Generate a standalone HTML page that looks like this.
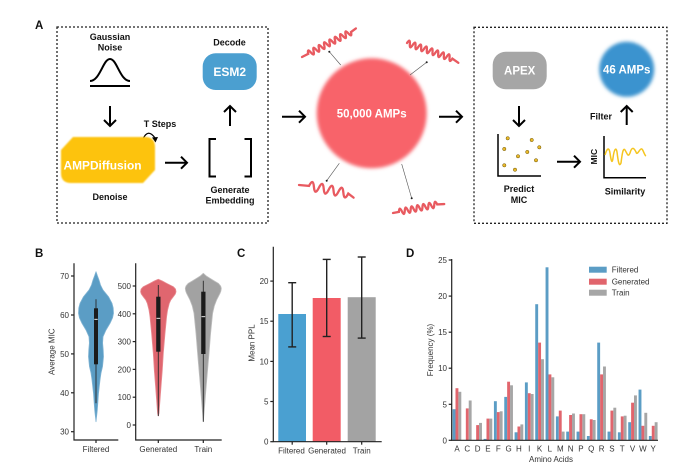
<!DOCTYPE html>
<html><head><meta charset="utf-8"><style>
html,body{margin:0;padding:0;background:#fff;}
svg{display:block;font-family:"Liberation Sans",Arial,sans-serif;}
.b{font-weight:bold;fill:#111;}
.t{font-size:8px;fill:#333;}
</style></head><body>
<svg width="692" height="468" viewBox="0 0 692 468" xmlns="http://www.w3.org/2000/svg">
<defs>
<filter id="blr" x="-20%" y="-20%" width="140%" height="140%"><feGaussianBlur stdDeviation="1.8"/></filter>
<filter id="blr2" x="-20%" y="-20%" width="140%" height="140%"><feGaussianBlur stdDeviation="0.7"/></filter>
</defs>
<rect width="692" height="468" fill="#fff"/>

<!-- ===== Panel A ===== -->
<text x="35" y="29" class="b" font-size="11.5">A</text>
<rect x="57" y="27" width="211" height="196" fill="none" stroke="#222" stroke-width="1.3" stroke-dasharray="2,2"/>
<g text-anchor="middle" font-size="9" class="b">
<text x="110" y="40" class="b">Gaussian</text>
<text x="110" y="50.5" class="b">Noise</text>
<text x="229.5" y="45.5" class="b">Decode</text>
<text x="160" y="127" class="b">T Steps</text>
<text x="110" y="200" class="b">Denoise</text>
<text x="230" y="193" class="b">Generate</text>
<text x="230" y="203.5" class="b">Embedding</text>
<text x="519" y="192" class="b">Predict</text>
<text x="519" y="203" class="b">MIC</text>
<text x="625" y="194.5" class="b">Similarity</text>
<text x="601" y="119.5" class="b">Filter</text>
</g>
<!-- gaussian -->
<path d="M90,81 C100,81 103,59 110,59 C117,59 120,81 130,81" fill="none" stroke="#000" stroke-width="2"/>
<line x1="90" y1="86" x2="130" y2="86" stroke="#000" stroke-width="2"/>
<!-- arrows -->
<g fill="none" stroke="#000" stroke-width="2">
<line x1="110" y1="106" x2="110" y2="126"/><polyline points="104,120 110,126 116,120"/>
<line x1="230" y1="126" x2="230" y2="106"/><polyline points="224,112 230,106 236,112"/>
<line x1="165" y1="162.7" x2="187" y2="162.7"/><polyline points="181,156.7 187,162.7 181,168.7"/>
<line x1="282" y1="116.7" x2="305" y2="116.7"/><polyline points="299,110.7 305,116.7 299,122.7"/>
<line x1="439" y1="116.7" x2="462" y2="116.7"/><polyline points="456,110.7 462,116.7 456,122.7"/>
<line x1="519" y1="106" x2="519" y2="126"/><polyline points="513,120 519,126 525,120"/>
<line x1="557" y1="161.7" x2="580" y2="161.7"/><polyline points="574,155.7 580,161.7 574,167.7"/>
<line x1="626.7" y1="125" x2="626.7" y2="106"/><polyline points="620.7,112 626.7,106 632.7,112"/>
<!-- brackets -->
<polyline points="216,139 209.5,139 209.5,176.5 216,176.5"/>
<polyline points="244.5,139 251,139 251,176.5 244.5,176.5"/>
</g>
<!-- curved T steps arrow -->
<path d="M143,139 Q148,128 155,138" fill="none" stroke="#000" stroke-width="1.3"/>
<polygon points="152,137.5 158,137 155.5,142.5" fill="#000"/>
<!-- AMPDiffusion -->
<path d="M73,137 L145,137 Q155,137 155,147 L155,170 L143,183 L71,183 Q61,183 61,173 L61,150 Z" fill="#fdc30f" filter="url(#blr2)"/>
<text x="102.5" y="169.5" text-anchor="middle" font-size="12" font-weight="bold" fill="#fff" textLength="78" lengthAdjust="spacingAndGlyphs">AMPDiffusion</text>
<!-- ESM2 -->
<rect x="202.7" y="53.3" width="54" height="36.7" rx="13" fill="#4b9fd0"/>
<text x="229.7" y="76" text-anchor="middle" font-size="12" font-weight="bold" fill="#fff">ESM2</text>

<!-- red circle -->
<circle cx="371.7" cy="113.3" r="55" fill="#f8646a" filter="url(#blr)"/>
<text x="371.7" y="117.5" text-anchor="middle" font-size="11.5" font-weight="bold" fill="#fff">50,000 AMPs</text>
<!-- pointer lines -->
<g stroke="#555" stroke-width="0.6">
<line x1="329.3" y1="51.7" x2="340.7" y2="65"/>
<line x1="426.7" y1="62.3" x2="410" y2="75"/>
<line x1="326.7" y1="180.7" x2="339.3" y2="163.3"/>
<line x1="411.7" y1="198.3" x2="401.7" y2="164"/>
</g>
<g fill="#222"><circle cx="329.3" cy="51.7" r="1"/><circle cx="426.7" cy="62.3" r="1"/><circle cx="326.7" cy="180.7" r="1"/><circle cx="411.7" cy="198.3" r="1"/></g>
<!-- helices -->
<g fill="none" stroke="#e85a60" stroke-width="2.3" stroke-linecap="round">
<g transform="translate(302,57) rotate(-27)"><path d="M0,0 L7,0 q1.5,-6 3,0 t3,0 t3,0 t3,0 t3,0 t3,0 t3,0 t3,0 t3,0 t3,0 t3,0 t3,0 t3,0 t3,0 t3,0 t3,0 L61,-1" /></g>
<g transform="translate(407,43) rotate(19)"><path d="M0,0 q1.5,-6 3,0 t3,0 t3,0 t3,0 t3,0 t3,0 t3,0 t3,0 t3,0 t3,0 t3,0 t3,0 t3,0 t3,0 t3,0 t3,0 L55,2"/></g>
<g transform="translate(299,185) rotate(11)"><path d="M0,0 L10,-1 q2.5,-9 5,0 t5,0 t5,0 t5,0 t5,0 t5,0 t5,0 t5,0 L56,2"/></g>
<g transform="translate(393,213) rotate(-11)"><path d="M0,0 L6,0 q1.5,-6 3,0 t3,0 t3,0 t3,0 t3,0 t3,0 t3,0 t3,0 t3,0 t3,0 t3,0 t3,0 t3,0 L52,1"/></g>
</g>

<!-- right box -->
<rect x="474" y="27.3" width="193" height="196" fill="none" stroke="#222" stroke-width="1.3" stroke-dasharray="2,2"/>
<rect x="492.7" y="51.7" width="54" height="37.6" rx="13" fill="#a6a6a6"/>
<text x="519.7" y="74.5" text-anchor="middle" font-size="11.5" font-weight="bold" fill="#fff">APEX</text>
<polyline points="498,134 498,176 541,176" fill="none" stroke="#000" stroke-width="1.5"/>
<g fill="#e9b92b" stroke="#6b5200" stroke-width="0.5">
<circle cx="507.7" cy="138.3" r="1.7"/><circle cx="531.7" cy="140" r="1.7"/><circle cx="504.3" cy="149" r="1.7"/>
<circle cx="539.3" cy="147.3" r="1.7"/><circle cx="527.3" cy="152" r="1.7"/><circle cx="518" cy="156.3" r="1.7"/>
<circle cx="536" cy="160.3" r="1.7"/><circle cx="504.3" cy="165.3" r="1.7"/><circle cx="515" cy="169.7" r="1.7"/>
</g>
<polyline points="604,136 604,177.7 646,177.7" fill="none" stroke="#000" stroke-width="1.5"/>
<text transform="translate(597,156.7) rotate(-90)" text-anchor="middle" font-size="8.5" class="b">MIC</text>
<path d="M605,155 C607,148 609,147 610,153 C611,160 612,165 613,158 C614,150 616,146 617,152 C618,160 619,168 621,163 C622,155 623,147 625,150 C627,153 628,158 630,153 C632,146 634,148 636,152 C637,156 639,150 641,149 C643,148 644,155 646,156" fill="none" stroke="#f5c51f" stroke-width="1.5"/>
<circle cx="626.7" cy="69.3" r="27.5" fill="#3a93cf" filter="url(#blr)"/>
<text x="626.7" y="73.5" text-anchor="middle" font-size="11.5" font-weight="bold" fill="#fff">46 AMPs</text>

<!-- ===== Panel B ===== -->
<text x="35" y="257" class="b" font-size="11.5">B</text>
<g stroke="#222" stroke-width="1.2" fill="none">
<polyline points="74,263.3 74,440 118.3,440"/>
<polyline points="135.7,263.3 135.7,440 221.7,440"/>
<line x1="71" y1="276" x2="74" y2="276"/><line x1="71" y1="315" x2="74" y2="315"/><line x1="71" y1="353.9" x2="74" y2="353.9"/><line x1="71" y1="392.8" x2="74" y2="392.8"/><line x1="71" y1="431.7" x2="74" y2="431.7"/>
<line x1="96" y1="440" x2="96" y2="443"/>
<line x1="132.7" y1="286" x2="135.7" y2="286"/><line x1="132.7" y1="313.8" x2="135.7" y2="313.8"/><line x1="132.7" y1="341.6" x2="135.7" y2="341.6"/><line x1="132.7" y1="369.4" x2="135.7" y2="369.4"/><line x1="132.7" y1="397.2" x2="135.7" y2="397.2"/><line x1="132.7" y1="425" x2="135.7" y2="425"/>
<line x1="158.3" y1="440" x2="158.3" y2="443"/><line x1="203.3" y1="440" x2="203.3" y2="443"/>
</g>
<g class="t" text-anchor="end">
<text x="69" y="279" class="t">70</text><text x="69" y="318" class="t">60</text><text x="69" y="356.9" class="t">50</text><text x="69" y="395.8" class="t">40</text><text x="69" y="434.7" class="t">30</text>
<text x="131" y="289" class="t">500</text><text x="131" y="316.8" class="t">400</text><text x="131" y="344.6" class="t">300</text><text x="131" y="372.4" class="t">200</text><text x="131" y="400.2" class="t">100</text><text x="131" y="428" class="t">0</text>
</g>
<g text-anchor="middle">
<text x="96" y="452" class="t">Filtered</text>
<text x="158.3" y="452" class="t">Generated</text>
<text x="203.3" y="452" class="t">Train</text>
</g>
<text transform="translate(54.5,351.7) rotate(-90)" text-anchor="middle" class="t">Average MIC</text>
<!-- violins -->
<polygon fill="#5b9dc5" stroke="#7fb3d3" stroke-width="0.8" stroke-linejoin="round" points="96,271.7 94.5,276 93,280 91.5,285 89,290 83.5,296.7 80,303.3 78.8,308 78.5,313.3 79.5,318 82,323.3 86,330 89,336.7 89.4,343 88.8,350 88.5,356.7 89.5,366.7 91,373 92,380 93.5,393.3 94.7,410 96,421.7 97.3,410 98.5,393.3 100,380 101,373 102.5,366.7 103.5,356.7 103.2,350 102.6,343 103,336.7 106,330 110,323.3 112.5,318 113.5,313.3 113.2,308 112,303.3 108.5,296.7 103,290 100.5,285 99,280 97.5,276"/>
<polygon fill="#e0666f" stroke="#e88a90" stroke-width="0.8" stroke-linejoin="round" points="158.3,279.3 154.3,281 150,283.3 143.3,286.7 141.1,289 140.6,291.7 141.3,294 143.3,296.7 145.8,300 147.3,303.3 149,310 150,316.7 151.6,333.3 153.3,353.3 154.3,370 155.6,386.7 156.6,400 157.6,413.3 158.3,416 159,413.3 160,400 161,386.7 162.3,370 163.3,353.3 165,333.3 166.6,316.7 167.6,310 169.3,303.3 170.8,300 173.3,296.7 175.3,294 176,291.7 175.5,289 173.3,286.7 166.6,283.3 162.3,281"/>
<polygon fill="#a2a2a2" stroke="#bdbdbd" stroke-width="0.8" stroke-linejoin="round" points="203.3,273.3 200.3,276 196.6,278.3 192.3,281 188.3,283.3 186,286 185.3,288.3 185.7,291 186.6,293.3 190,300 192.3,306 194,313.3 196,333.3 197.6,353.3 199.3,373.3 201,393.3 202.3,410 203.3,421.7 204.3,410 205.6,393.3 207.3,373.3 209,353.3 210.6,333.3 212.6,313.3 214.3,306 216.6,300 220,293.3 220.9,291 221.3,288.3 220.6,286 218.3,283.3 214.3,281 210,278.3 206.3,276"/>
<g stroke="#2a2a2a" stroke-width="0.9">
<line x1="96" y1="299.3" x2="96" y2="403.3"/>
<line x1="158.3" y1="285" x2="158.3" y2="416"/>
<line x1="203.3" y1="280.7" x2="203.3" y2="421.7"/>
</g>
<g fill="#1b1b1b">
<rect x="94" y="308.3" width="4" height="56"/>
<rect x="156.2" y="296.7" width="4.3" height="55"/>
<rect x="201.2" y="291.7" width="4.3" height="62.3"/>
</g>
<g stroke="#fff" stroke-width="0.9">
<line x1="94.3" y1="319.3" x2="97.7" y2="319.3"/>
<line x1="156.5" y1="318.3" x2="160.2" y2="318.3"/>
<line x1="201.5" y1="316.7" x2="205.2" y2="316.7"/>
</g>

<!-- ===== Panel C ===== -->
<text x="237" y="257" class="b" font-size="11.5">C</text>
<rect x="278.3" y="314" width="27.7" height="127.7" fill="#4aa0d1"/>
<rect x="312.7" y="298" width="28" height="143.7" fill="#f25c66"/>
<rect x="347.7" y="297.2" width="28" height="144.5" fill="#a3a3a3"/>
<g stroke="#222" stroke-width="1.4">
<line x1="292.2" y1="282.7" x2="292.2" y2="346.9"/><line x1="288.2" y1="282.7" x2="296.2" y2="282.7"/><line x1="288.2" y1="346.9" x2="296.2" y2="346.9"/>
<line x1="326.7" y1="259.4" x2="326.7" y2="336.5"/><line x1="322.7" y1="259.4" x2="330.7" y2="259.4"/><line x1="322.7" y1="336.5" x2="330.7" y2="336.5"/>
<line x1="361.7" y1="257" x2="361.7" y2="338.1"/><line x1="357.7" y1="257" x2="365.7" y2="257"/><line x1="357.7" y1="338.1" x2="365.7" y2="338.1"/>
</g>
<g stroke="#222" stroke-width="1.2" fill="none">
<polyline points="273.3,246.7 273.3,441.7 381.7,441.7"/>
<line x1="270.3" y1="281.1" x2="273.3" y2="281.1"/><line x1="270.3" y1="321.2" x2="273.3" y2="321.2"/><line x1="270.3" y1="361.4" x2="273.3" y2="361.4"/><line x1="270.3" y1="401.5" x2="273.3" y2="401.5"/><line x1="270.3" y1="441.7" x2="273.3" y2="441.7"/>
<line x1="292.2" y1="441.7" x2="292.2" y2="444.7"/><line x1="326.7" y1="441.7" x2="326.7" y2="444.7"/><line x1="361.7" y1="441.7" x2="361.7" y2="444.7"/>
</g>
<g text-anchor="end">
<text x="268.5" y="284.1" class="t">20</text><text x="268.5" y="324.2" class="t">15</text><text x="268.5" y="364.4" class="t">10</text><text x="268.5" y="404.5" class="t">5</text><text x="268.5" y="444.7" class="t">0</text>
</g>
<g text-anchor="middle" font-size="7.8">
<text x="291.5" y="453.5" class="t" font-size="7.8">Filtered</text>
<text x="327" y="453.5" class="t" font-size="7.8">Generated</text>
<text x="361.7" y="453.5" class="t" font-size="7.8">Train</text>
</g>
<text transform="translate(254.5,343) rotate(-90)" text-anchor="middle" class="t">Mean PPL</text>

<!-- ===== Panel D ===== -->
<text x="406" y="257" class="b" font-size="11.5">D</text>
<g fill="#5b9dc5">
<rect x="452.6" y="409.2" width="2.9" height="31.1"/>
<rect x="483.59" y="438.9" width="2.9" height="1.4"/>
<rect x="493.92" y="401.2" width="2.9" height="39.1"/>
<rect x="504.25" y="396.9" width="2.9" height="43.4"/>
<rect x="514.58" y="432.3" width="2.9" height="8"/>
<rect x="524.91" y="382.4" width="2.9" height="57.9"/>
<rect x="535.24" y="304.2" width="2.9" height="136.1"/>
<rect x="545.57" y="267.3" width="2.9" height="173"/>
<rect x="555.9" y="416.4" width="2.9" height="23.9"/>
<rect x="566.23" y="431.6" width="2.9" height="8.7"/>
<rect x="576.56" y="431.6" width="2.9" height="8.7"/>
<rect x="586.89" y="436" width="2.9" height="4.3"/>
<rect x="597.22" y="342.6" width="2.9" height="97.7"/>
<rect x="607.55" y="431.6" width="2.9" height="8.7"/>
<rect x="617.88" y="432.3" width="2.9" height="8"/>
<rect x="628.21" y="422.2" width="2.9" height="18.1"/>
<rect x="638.54" y="389.6" width="2.9" height="50.7"/>
<rect x="648.87" y="436" width="2.9" height="4.3"/>
</g>
<g fill="#e1656d">
<rect x="455.5" y="388.2" width="2.9" height="52.1"/>
<rect x="465.83" y="408.4" width="2.9" height="31.9"/>
<rect x="476.16" y="425.1" width="2.9" height="15.2"/>
<rect x="486.49" y="418.6" width="2.9" height="21.7"/>
<rect x="496.82" y="412.1" width="2.9" height="28.2"/>
<rect x="507.15" y="381.7" width="2.9" height="58.6"/>
<rect x="517.48" y="426.5" width="2.9" height="13.8"/>
<rect x="527.81" y="393.2" width="2.9" height="47.1"/>
<rect x="538.14" y="342.6" width="2.9" height="97.7"/>
<rect x="548.47" y="374.4" width="2.9" height="65.9"/>
<rect x="558.8" y="410.6" width="2.9" height="29.7"/>
<rect x="569.13" y="415" width="2.9" height="25.3"/>
<rect x="579.46" y="414.2" width="2.9" height="26.1"/>
<rect x="589.79" y="419.3" width="2.9" height="21"/>
<rect x="600.12" y="374.4" width="2.9" height="65.9"/>
<rect x="610.45" y="410.6" width="2.9" height="29.7"/>
<rect x="620.78" y="416.4" width="2.9" height="23.9"/>
<rect x="631.11" y="402.7" width="2.9" height="37.6"/>
<rect x="641.44" y="425.8" width="2.9" height="14.5"/>
<rect x="651.77" y="425.8" width="2.9" height="14.5"/>
</g>
<g fill="#a6a6a6">
<rect x="458.4" y="391.8" width="2.9" height="48.5"/>
<rect x="468.73" y="400.5" width="2.9" height="39.8"/>
<rect x="479.06" y="422.9" width="2.9" height="17.4"/>
<rect x="489.39" y="418.6" width="2.9" height="21.7"/>
<rect x="499.72" y="411.3" width="2.9" height="29"/>
<rect x="510.05" y="385.3" width="2.9" height="55"/>
<rect x="520.38" y="424.4" width="2.9" height="15.9"/>
<rect x="530.71" y="394" width="2.9" height="46.3"/>
<rect x="541.04" y="359.2" width="2.9" height="81.1"/>
<rect x="551.37" y="377.3" width="2.9" height="63"/>
<rect x="561.7" y="431.6" width="2.9" height="8.7"/>
<rect x="572.03" y="413.5" width="2.9" height="26.8"/>
<rect x="582.36" y="414.2" width="2.9" height="26.1"/>
<rect x="592.69" y="420" width="2.9" height="20.3"/>
<rect x="603.02" y="366.5" width="2.9" height="73.8"/>
<rect x="613.35" y="407.7" width="2.9" height="32.6"/>
<rect x="623.68" y="415.7" width="2.9" height="24.6"/>
<rect x="634.01" y="395.4" width="2.9" height="44.9"/>
<rect x="644.34" y="412.8" width="2.9" height="27.5"/>
<rect x="654.67" y="422.2" width="2.9" height="18.1"/>
</g>
<g stroke="#222" stroke-width="1.2" fill="none">
<polyline points="451.7,259 451.7,440.3 658,440.3"/>
<line x1="448.7" y1="260" x2="451.7" y2="260"/><line x1="448.7" y1="296.1" x2="451.7" y2="296.1"/><line x1="448.7" y1="332.2" x2="451.7" y2="332.2"/><line x1="448.7" y1="368.2" x2="451.7" y2="368.2"/><line x1="448.7" y1="404.3" x2="451.7" y2="404.3"/><line x1="448.7" y1="440.3" x2="451.7" y2="440.3"/>
</g>
<g text-anchor="end">
<text x="447" y="263" class="t">25</text><text x="447" y="299.1" class="t">20</text><text x="447" y="335.2" class="t">15</text><text x="447" y="371.2" class="t">10</text><text x="447" y="407.3" class="t">5</text><text x="447" y="443.3" class="t">0</text>
</g>
<g text-anchor="middle" font-size="8.5">
<text x="457" y="451.5" class="t" font-size="8.5">A</text>
<text x="467.3" y="451.5" class="t" font-size="8.5">C</text>
<text x="477.6" y="451.5" class="t" font-size="8.5">D</text>
<text x="487.9" y="451.5" class="t" font-size="8.5">E</text>
<text x="498.3" y="451.5" class="t" font-size="8.5">F</text>
<text x="508.6" y="451.5" class="t" font-size="8.5">G</text>
<text x="518.9" y="451.5" class="t" font-size="8.5">H</text>
<text x="529.3" y="451.5" class="t" font-size="8.5">I</text>
<text x="539.6" y="451.5" class="t" font-size="8.5">K</text>
<text x="549.9" y="451.5" class="t" font-size="8.5">L</text>
<text x="560.3" y="451.5" class="t" font-size="8.5">M</text>
<text x="570.6" y="451.5" class="t" font-size="8.5">N</text>
<text x="580.9" y="451.5" class="t" font-size="8.5">P</text>
<text x="591.2" y="451.5" class="t" font-size="8.5">Q</text>
<text x="601.6" y="451.5" class="t" font-size="8.5">R</text>
<text x="611.9" y="451.5" class="t" font-size="8.5">S</text>
<text x="622.2" y="451.5" class="t" font-size="8.5">T</text>
<text x="632.6" y="451.5" class="t" font-size="8.5">V</text>
<text x="642.9" y="451.5" class="t" font-size="8.5">W</text>
<text x="653.2" y="451.5" class="t" font-size="8.5">Y</text>
</g>
<text x="551" y="462" text-anchor="middle" class="t">Amino Acids</text>
<text transform="translate(433,350) rotate(-90)" text-anchor="middle" class="t">Frequency (%)</text>
<!-- legend -->
<rect x="589" y="266.7" width="17.7" height="6" fill="#5b9dc5"/>
<rect x="589" y="278.7" width="17.7" height="6" fill="#e1656d"/>
<rect x="589" y="289.7" width="17.7" height="6" fill="#a6a6a6"/>
<text x="611.7" y="272.7" class="t" font-size="8.2">Filtered</text>
<text x="611.7" y="284.7" class="t" font-size="8.2">Generated</text>
<text x="611.7" y="295.7" class="t" font-size="8.2">Train</text>
</svg>
</body></html>
